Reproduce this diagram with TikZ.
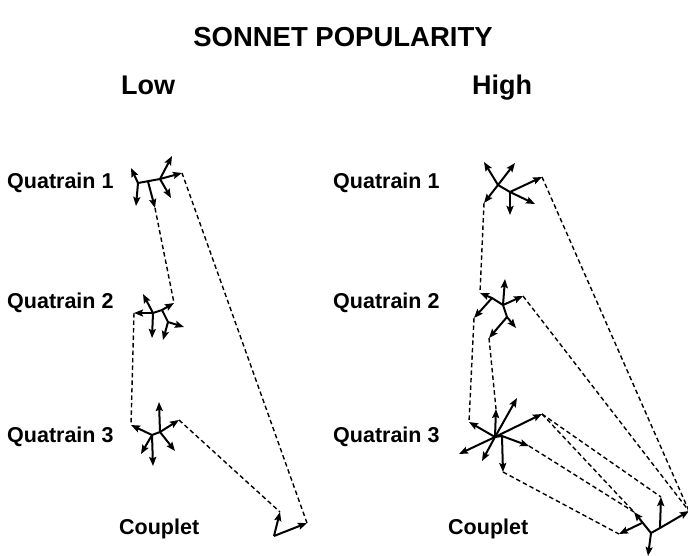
\documentclass[tikz,border=0pt]{standalone}
\usepackage{fontspec}
\setmainfont{Liberation Sans}
\usetikzlibrary{arrows.meta}
\begin{document}
\begin{tikzpicture}[x=1pt,y=-1pt,
  lbl/.style={font=\fontsize{21.5}{24}\selectfont\bfseries, anchor=base west, inner sep=0pt},
  hdr/.style={font=\fontsize{27}{30}\selectfont\bfseries, anchor=base west, inner sep=0pt},
  ttl/.style={font=\fontsize{27.5}{30}\selectfont\bfseries, anchor=base, inner sep=0pt},
  arr/.style={line width=2pt, -{Stealth[length=9pt,width=7pt,inset=1.5pt]}},
  stem/.style={line width=2pt, line cap=round},
  link/.style={line width=1.4pt, dash pattern=on 4.5pt off 3pt}]
\useasboundingbox (0,0) rectangle (688,555);

% texts
\node[ttl] (title) at (343,46) {SONNET POPULARITY};
\node[hdr] (low) at (121,94) {Low};
\node[hdr] (high) at (472,94) {High};
\node[lbl] (lq1) at (7,188) {Quatrain 1};
\node[lbl] (lq2) at (7,308) {Quatrain 2};
\node[lbl] (lq3) at (7,442) {Quatrain 3};
\node[lbl] (lc) at (119,534) {Couplet};
\node[lbl] (hq1) at (333,188) {Quatrain 1};
\node[lbl] (hq2) at (333,308) {Quatrain 2};
\node[lbl] (hq3) at (333,442) {Quatrain 3};
\node[lbl] (hc) at (448,534) {Couplet};

% ---------- LOW ----------
% Quatrain 1
\coordinate (a1) at (138,183);
\coordinate (a1m) at (148,181.5);
\coordinate (b1) at (160,179);
\coordinate (a1ul) at (131,168);
\coordinate (a1d) at (136,206);
\coordinate (a1md) at (155,208);
\coordinate (b1u) at (172,156);
\coordinate (b1r) at (182,173);
\coordinate (b1dr) at (171,198);
\draw[stem] (a1) -- (b1);
\draw[arr] (a1) -- (a1ul);
\draw[arr] (a1) -- (a1d);
\draw[arr] (a1m) -- (a1md);
\draw[arr] (b1) -- (b1u);
\draw[arr] (b1) -- (b1r);
\draw[arr] (b1) -- (b1dr);
% Quatrain 2
\coordinate (a2) at (153,313);
\coordinate (b2) at (162,310);
\coordinate (c2) at (168,322);
\coordinate (a2ul) at (143,294);
\coordinate (a2l) at (134,313);
\coordinate (a2d) at (152,338);
\coordinate (b2ur) at (174,303);
\coordinate (c2r) at (184,327);
\coordinate (c2d) at (163,340);
\draw[stem] (a2) -- (b2) -- (c2);
\draw[arr] (a2) -- (a2ul);
\draw[arr] (a2) -- (a2l);
\draw[arr] (a2) -- (a2d);
\draw[arr] (b2) -- (b2ur);
\draw[arr] (c2) -- (c2r);
\draw[arr] (c2) -- (c2d);
% Quatrain 3
\coordinate (a3) at (152,435);
\coordinate (b3) at (160,432);
\coordinate (a3ul) at (131,425);
\coordinate (a3dl) at (141,454);
\coordinate (a3d) at (153,466);
\coordinate (b3u) at (159,402);
\coordinate (b3ur) at (179,420);
\coordinate (b3dr) at (175,451);
\draw[stem] (a3) -- (b3);
\draw[arr] (a3) -- (a3ul);
\draw[arr] (a3) -- (a3dl);
\draw[arr] (a3) -- (a3d);
\draw[arr] (b3) -- (b3u);
\draw[arr] (b3) -- (b3ur);
\draw[arr] (b3) -- (b3dr);
% Couplet
\coordinate (cv) at (274,536);
\coordinate (cvu) at (280,512);
\coordinate (cvr) at (307,523);
\draw[arr] (cv) -- (cvu);
\draw[arr] (cv) -- (cvr);
% links
\draw[link] (a1md) -- (b2ur);
\draw[link] (a2l) -- (a3ul);
\draw[link] (b3ur) -- (cvu);
\draw[link] (cvr) -- (b1r);

% ---------- HIGH ----------
% Quatrain 1
\coordinate (h1a) at (498,185);
\coordinate (h1b) at (510,192);
\coordinate (h1ul) at (484,162);
\coordinate (h1ur) at (515,163);
\coordinate (h1dl) at (484,203);
\coordinate (h1d) at (510,215);
\coordinate (h1r) at (542,177);
\coordinate (h1dr) at (535,204);
\draw[stem] (h1a) -- (h1b);
\draw[arr] (h1a) -- (h1ul);
\draw[arr] (h1a) -- (h1ur);
\draw[arr] (h1a) -- (h1dl);
\draw[arr] (h1b) -- (h1d);
\draw[arr] (h1b) -- (h1r);
\draw[arr] (h1b) -- (h1dr);
% Quatrain 2
\coordinate (h2a) at (492,298);
\coordinate (h2b) at (503,305);
\coordinate (h2c) at (507,317);
\coordinate (h2ul) at (480,293);
\coordinate (h2dl) at (474,318);
\coordinate (h2u) at (505,279);
\coordinate (h2ur) at (523,296);
\coordinate (h2dr) at (516,328);
\coordinate (h2d) at (489,338);
\draw[stem] (h2a) -- (h2b) -- (h2c);
\draw[arr] (h2a) -- (h2ul);
\draw[arr] (h2a) -- (h2dl);
\draw[arr] (h2b) -- (h2u);
\draw[arr] (h2b) -- (h2ur);
\draw[arr] (h2c) -- (h2dr);
\draw[arr] (h2c) -- (h2d);
% Quatrain 3
\coordinate (h3a) at (495,437);
\coordinate (h3b) at (502,436);
\coordinate (h3ul) at (469,422);
\coordinate (h3dl) at (459,454);
\coordinate (h3u) at (496,409);
\coordinate (h3dd) at (482,461);
\coordinate (h3us) at (517,398);
\coordinate (h3ur) at (542,414);
\coordinate (h3r) at (529,446);
\coordinate (h3d) at (503,472);
\draw[stem] (h3a) -- (h3b);
\draw[arr] (h3a) -- (h3ul);
\draw[arr] (h3a) -- (h3dl);
\draw[arr] (h3a) -- (h3u);
\draw[arr] (h3a) -- (h3dd);
\draw[arr] (h3a) -- (h3us);
\draw[arr] (h3a) -- (h3ur);
\draw[arr] (h3b) -- (h3r);
\draw[arr] (h3b) -- (h3d);
% Couplet
\coordinate (hcv) at (651,533);
\coordinate (hcm) at (642,523);
\coordinate (hcw) at (660,528);
\coordinate (hcul) at (634,512);
\coordinate (hcl) at (619,534);
\coordinate (hcd) at (648,556);
\coordinate (hcu) at (661,497);
\coordinate (hcr) at (689,511);
\draw[stem] (hcv) -- (hcw);
\draw[arr] (hcv) -- (hcul);
\draw[arr] (hcm) -- (hcl);
\draw[arr] (hcv) -- (hcd);
\draw[arr] (hcw) -- (hcu);
\draw[arr] (hcw) -- (hcr);
% links
\draw[link] (h1dl) -- (h2ul);
\draw[link] (h1r) -- (hcr);
\draw[link] (h2dl) -- (h3ul);
\draw[link] (h2d) -- (h3u);
\draw[link] (h2ur) -- (hcr);
\draw[link] (h3ur) -- (hcu);
\draw[link] (h3ur) -- (hcul);
\draw[link] (h3r) -- (hcul);
\draw[link] (h3d) -- (hcl);
\end{tikzpicture}
\end{document}
